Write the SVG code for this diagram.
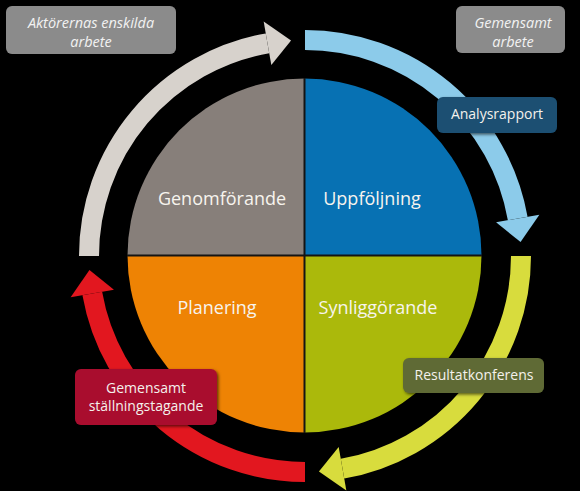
<svg xmlns="http://www.w3.org/2000/svg" width="580" height="491" viewBox="0 0 580 491">
  <defs>
    <style>
      .q { stroke: none; }
      .qlabel { font-family: "Open Sans", "Noto Sans", "DejaVu Sans", sans-serif; font-size: 18px; fill: #f7f4ee; text-anchor: middle; }
      .blabel { font-family: "Open Sans", "Noto Sans", "DejaVu Sans", sans-serif; font-size: 14px; fill: #f4f1ec; text-anchor: middle; }
      .tlabel { font-family: "Open Sans", "Noto Sans", "DejaVu Sans", sans-serif; font-size: 14.5px; font-style: italic; fill: #f2f2f2; text-anchor: middle; }
      .shaft { fill: none; stroke-width: 20; stroke-linecap: butt; }
      .divider { stroke: #141414; stroke-width: 2; }
      .box { filter: url(#shadow); }
    </style>
    <filter id="shadow" x="-10%" y="-20%" width="130%" height="150%">
      <feDropShadow dx="1.5" dy="1.5" stdDeviation="1.5" flood-color="#000" flood-opacity="0.6"/>
    </filter>
  </defs>

  <rect x="0" y="0" width="580" height="491" fill="#000"/>

  <!-- Pie quadrants -->
  <g id="genomforande">
    <path class="q" fill="#877f7a" d="M304.5,255.5 L127.5,255.5 A177,177 0 0 1 304.5,78.5 Z"/>
    <text class="qlabel" x="222" y="205">Genomförande</text>
  </g>
  <g id="uppfoljning">
    <path class="q" fill="#0771b3" d="M304.5,255.5 L304.5,78.5 A177,177 0 0 1 481.5,255.5 Z"/>
    <text class="qlabel" x="372" y="205">Uppföljning</text>
  </g>
  <g id="synliggorande">
    <path class="q" fill="#abb90b" d="M304.5,255.5 L481.5,255.5 A177,177 0 0 1 304.5,432.5 Z"/>
    <text class="qlabel" x="378" y="314">Synliggörande</text>
  </g>
  <g id="planering">
    <path class="q" fill="#ee8304" d="M304.5,255.5 L304.5,432.5 A177,177 0 0 1 127.5,255.5 Z"/>
    <text class="qlabel" x="217" y="314">Planering</text>
  </g>
  <g id="dividers">
    <line class="divider" x1="304.5" y1="78" x2="304.5" y2="433"/>
    <line class="divider" x1="127" y1="255.5" x2="482" y2="255.5"/>
  </g>

  <!-- Cycle arrows -->
  <g id="connectors">
    <g id="arrow-gray">
      <path class="shaft" stroke="#d7d2cc" d="M89,256 A216,216 0 0 1 267.49,43.28"/>
      <polygon fill="#d7d2cc" points="263.67,21.62 291.06,40.45 271.31,64.95"/>
    </g>
    <g id="arrow-blue">
      <path class="shaft" stroke="#8ccbea" d="M305,40 A216,216 0 0 1 517.72,218.49"/>
      <polygon fill="#8ccbea" points="539.38,214.67 520.55,242.06 496.05,222.31"/>
    </g>
    <g id="arrow-yellow">
      <path class="shaft" stroke="#d8dc3d" d="M521,256 A216,216 0 0 1 342.51,468.72"/>
      <polygon fill="#d8dc3d" points="346.33,490.38 318.94,471.55 338.69,447.05"/>
    </g>
    <g id="arrow-red">
      <path class="shaft" stroke="#e2171f" d="M305,472 A216,216 0 0 1 92.28,293.51"/>
      <polygon fill="#e2171f" points="70.62,297.33 89.45,269.94 113.95,289.69"/>
    </g>
  </g>

  <!-- Labels / boxes -->
  <g id="aktorernas-enskilda-arbete">
    <rect class="box" x="6" y="6" width="170" height="48" rx="6" fill="#8b8b8b"/>
    <text class="tlabel" x="91" y="28">Aktörernas enskilda</text>
    <text class="tlabel" x="91" y="47">arbete</text>
  </g>
  <g id="gemensamt-arbete">
    <rect class="box" x="456" y="6" width="109" height="47" rx="6" fill="#8b8b8b"/>
    <text class="tlabel" x="513" y="28">Gemensamt</text>
    <text class="tlabel" x="513" y="47">arbete</text>
  </g>
  <g id="analysrapport">
    <rect class="box" x="437" y="97" width="120" height="36" rx="6" fill="#1b4f72"/>
    <text class="blabel" x="497" y="119">Analysrapport</text>
  </g>
  <g id="resultatkonferens">
    <rect class="box" x="403" y="358" width="141" height="35" rx="6" fill="#5f6a34"/>
    <text class="blabel" x="474" y="380">Resultatkonferens</text>
  </g>
  <g id="gemensamt-stallningstagande">
    <rect class="box" x="75" y="369" width="142" height="56" rx="6" fill="#a90f2f"/>
    <text class="blabel" x="146" y="393">Gemensamt</text>
    <text class="blabel" x="146" y="411">ställningstagande</text>
  </g>
</svg>
